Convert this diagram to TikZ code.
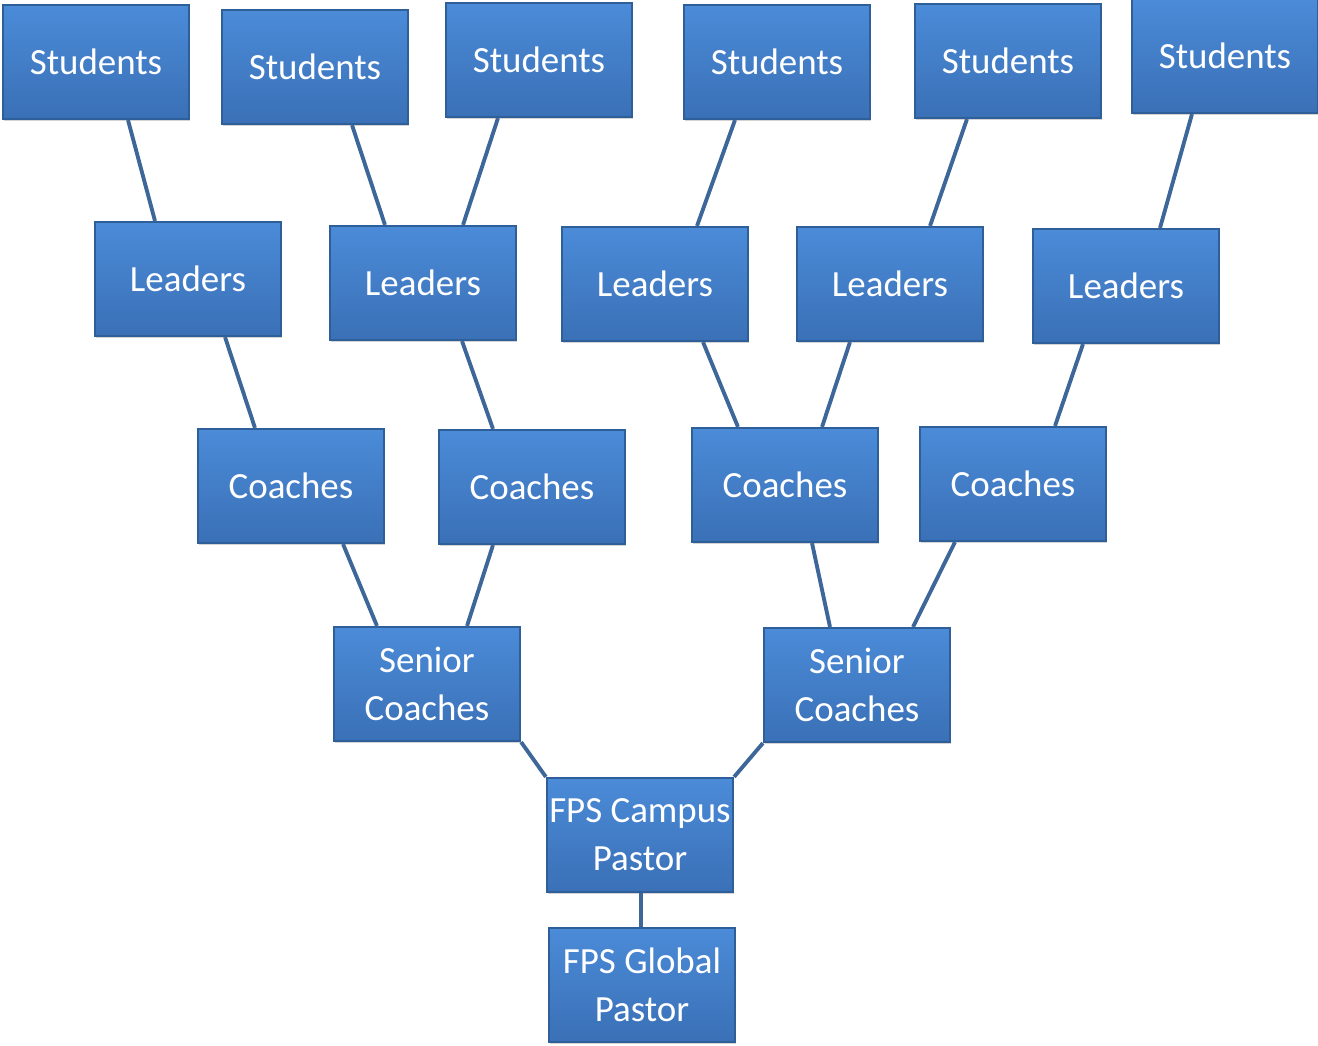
\documentclass[tikz,border=0pt]{standalone}
\usepackage{fontspec}
\setmainfont{Carlito}
\usetikzlibrary{positioning,shadows}

\definecolor{boxtop}{HTML}{4B8BD8}
\definecolor{boxbot}{HTML}{3A70B6}
\definecolor{boxline}{HTML}{2F5F98}
\definecolor{linkcol}{HTML}{3D6699}

\tikzset{
	role/.style={rectangle, minimum width=1.86cm, minimum height=1.14cm,
		top color=boxtop, bottom color=boxbot, draw=boxline, line width=0.6pt,
		text=white, align=center, inner sep=0pt,
		font=\fontsize{10.5}{13.6}\selectfont,
		drop shadow={shadow xshift=0.3pt, shadow yshift=-0.6pt, opacity=0.35}},
	link/.style={draw=linkcol, line width=1.1pt}
}

\begin{document}
\begin{tikzpicture}[x=0.01cm,y=-0.01cm]

		\useasboundingbox (0,0) rectangle (1318,1046);

		% Students
		\node[role] (st1) at (96,62) {Students};
		\node[role] (st2) at (315,67) {Students};
		\node[role] (st3) at (539,60) {Students};
		\node[role] (st4) at (777,62) {Students};
		\node[role] (st5) at (1008,61) {Students};
		\node[role] (st6) at (1225,56) {Students};

		% Leaders
		\node[role] (le1) at (188,279) {Leaders};
		\node[role] (le2) at (423,283) {Leaders};
		\node[role] (le3) at (655,284) {Leaders};
		\node[role] (le4) at (890,284) {Leaders};
		\node[role] (le5) at (1126,286) {Leaders};

		% Coaches
		\node[role] (co1) at (291,486) {Coaches};
		\node[role] (co2) at (532,487) {Coaches};
		\node[role] (co3) at (785,485) {Coaches};
		\node[role] (co4) at (1013,484) {Coaches};

		% Senior coaches
		\node[role] (sc1) at (427,684) {Senior\\Coaches};
		\node[role] (sc2) at (857,685) {Senior\\Coaches};

		% Pastors
		\node[role] (cp) at (640,835) {FPS Campus\\Pastor};
		\node[role] (gp) at (642,985) {FPS Global\\Pastor};

		% Students to leaders
		\draw[link] ([xshift=0.32cm]st1.south) -- ([xshift=-0.33cm]le1.north);
		\draw[link] ([xshift=0.37cm]st2.south) -- ([xshift=-0.38cm]le2.north);
		\draw[link] ([xshift=-0.41cm]st3.south) -- ([xshift=0.40cm]le2.north);
		\draw[link] ([xshift=-0.42cm]st4.south) -- ([xshift=0.42cm]le3.north);
		\draw[link] ([xshift=-0.41cm]st5.south) -- ([xshift=0.40cm]le4.north);
		\draw[link] ([xshift=-0.33cm]st6.south) -- ([xshift=0.34cm]le5.north);

		% Leaders to coaches
		\draw[link] ([xshift=0.37cm]le1.south) -- ([xshift=-0.36cm]co1.north);
		\draw[link] ([xshift=0.39cm]le2.south) -- ([xshift=-0.39cm]co2.north);
		\draw[link] ([xshift=0.48cm]le3.south) -- ([xshift=-0.47cm]co3.north);
		\draw[link] ([xshift=-0.40cm]le4.south) -- ([xshift=0.37cm]co3.north);
		\draw[link] ([xshift=-0.43cm]le5.south) -- ([xshift=0.42cm]co4.north);

		% Coaches to senior coaches
		\draw[link] ([xshift=0.52cm]co1.south) -- ([xshift=-0.50cm]sc1.north);
		\draw[link] ([xshift=-0.39cm]co2.south) -- ([xshift=0.40cm]sc1.north);
		\draw[link] ([xshift=0.27cm]co3.south) -- ([xshift=-0.27cm]sc2.north);
		\draw[link] ([xshift=-0.58cm]co4.south) -- ([xshift=0.56cm]sc2.north);

		% Senior coaches to pastors
		\draw[link] (sc1.south east) -- (cp.north west);
		\draw[link] (sc2.south west) -- (cp.north east);
		\draw[link] ([xshift=0.01cm]cp.south) -- ([xshift=-0.01cm]gp.north);

	\end{tikzpicture}
\end{document}
